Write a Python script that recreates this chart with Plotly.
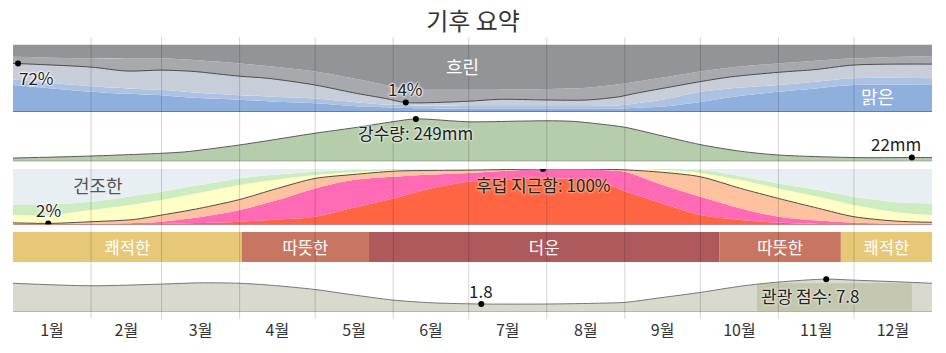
import plotly.graph_objects as go

FONT = "Noto Sans CJK KR, Noto Sans, sans-serif"

# ---------------- data ----------------
month_labels = ["1월", "2월", "3월", "4월", "5월", "6월", "7월", "8월", "9월", "10월", "11월", "12월"]
month_starts = [0, 31, 59, 90, 120, 151, 181, 212, 243, 273, 304, 334, 365]

# cloud cover (cumulative %, from bottom)
cloud_days = [0, 31, 45, 59, 72, 90, 101, 120, 135, 148, 156, 181, 193, 212, 228, 241, 246, 258, 273, 285, 304, 319, 334, 365]
cloud_clear = [40, 30, 27, 25, 21, 18, 16, 13, 9, 7, 6, 5, 5, 5, 5, 5, 6, 8, 15, 22, 30, 35, 40, 40]
cloud_mostly_clear = [48, 38, 35, 33, 29, 25, 23, 20, 15, 11, 10, 9, 9, 9, 9, 10, 12, 18, 30, 35, 40, 45, 50, 50]
cloud_partly = [72, 66.5, 60.7, 62, 60, 53, 50, 40, 28.6, 20, 14, 16, 18.8, 17.8, 17.8, 22.7, 26.7, 35, 45, 52, 58.8, 63, 69.6, 71]
cloud_mostly_cloudy = [82, 79.5, 79, 79.5, 77, 72, 68, 60, 50, 40, 34, 33, 33, 34, 36, 41, 44, 51, 60, 66, 72, 76, 79.5, 83]
cloud_overcast = [100] * len(cloud_days)

# precipitation (mm, 31-day sum)
rain_days = [0, 31, 59, 68, 90, 120, 135, 151, 160, 181, 201, 212, 222, 233, 243, 256, 273, 289, 304, 334, 357, 365]
rain_mm = [19, 31, 47, 55, 96, 165, 196, 233, 249, 232, 236, 238, 235, 219, 200, 156, 98, 59, 37, 22, 22, 22]

# humidity comfort (cumulative %, from bottom)
hum_days = [0, 15, 31, 48, 59, 74, 90, 105, 120, 135, 151, 166, 181, 196, 212, 233, 243, 258, 273, 289, 304, 320, 334, 351, 365]
hum_miserable = [0, 0, 0, 0.5, 1, 2.5, 5, 9, 14, 30, 47, 65, 77, 81, 83, 78, 60, 38, 17, 8, 3, 1, 0.5, 0, 0]
hum_oppressive = [0.5, 0.5, 1, 2.5, 5, 13, 26, 44, 65, 80, 86, 90, 93, 97, 99, 98, 95, 71, 50, 29, 14, 7, 3, 1.5, 1]
hum_muggy = [3, 2, 5, 9, 17, 29, 45, 65, 83, 90, 96, 97.5, 98, 99, 100, 99.5, 98.5, 94, 86, 65, 47, 29, 14, 6, 4]
hum_humid = [17, 17, 26, 36, 44, 57, 71, 81, 89, 94, 98, 99, 100, 100, 100, 100, 100, 98, 93, 80, 65, 50, 35, 22, 17]
hum_comfortable = [35, 36, 41, 52, 59, 71, 83, 90, 95, 98, 100, 100, 100, 100, 100, 100, 100, 100, 98, 87, 74, 62, 50, 40, 38]
hum_dry = [100] * len(hum_days)

# temperature bands
temp_starts = [0, 90.8, 141.4, 280.5, 328.8]
temp_ends = [90.8, 141.4, 280.5, 328.8, 365]
temp_labels = ["쾌적한", "따뜻한", "더운", "따뜻한", "쾌적한"]
temp_colors = ["#e6c878", "#c87562", "#ae5a5a", "#c87562", "#e6c878"]

# tourism score
tour_days = [0, 31, 59, 74, 90, 102, 120, 134, 151, 166, 181, 186, 212, 233, 243, 257, 273, 289, 304, 323, 334, 352, 365]
tour_score = [6.8, 6.2, 6.6, 6.9, 6.8, 6.35, 5.3, 4.1, 2.75, 2.1, 1.85, 1.8, 1.8, 2.0, 2.2, 3.3, 4.6, 6.1, 7.1, 7.8, 7.55, 7.15, 6.8]
best_range = [295.5, 357]
best_top = 6.8

# highlighted points
cloud_marks_days = [2, 156]
cloud_marks_vals = [72, 14]
rain_marks_days = [160, 357]
rain_marks_vals = [249, 22]
hum_marks_days = [14, 210.5]
hum_marks_vals = [2, 100]
tour_marks_days = [186, 323]
tour_marks_vals = [1.8, 7.8]

# ---------------- layout helpers ----------------
W, H = 946, 353
M_L, M_R, M_T, M_B = 13, 14, 37, 34
PLOT_H = H - M_T - M_B
BOTTOM_PX = H - M_B


def dom(top_px, bottom_px):
    return [(BOTTOM_PX - bottom_px) / PLOT_H, (BOTTOM_PX - top_px) / PLOT_H]


fig = go.Figure()
SPL = dict(shape="spline", smoothing=0.8)


def band(days, vals, color, yaxis, first=False, line=None):
    fig.add_trace(go.Scatter(
        x=days, y=vals, mode="lines", yaxis=yaxis,
        fill="tozeroy" if first else "tonexty", fillcolor=color,
        line=dict(width=line[1] if line else 0, color=line[0] if line else color, **SPL),
        hoverinfo="skip", showlegend=False))


# cloud panel (y)
band(cloud_days, cloud_clear, "#8fb0dc", "y", first=True)
band(cloud_days, cloud_mostly_clear, "#abc2e3", "y")
band(cloud_days, cloud_partly, "#c8ced9", "y", line=("#4a4a4a", 1))
band(cloud_days, cloud_mostly_cloudy, "#a7a9ae", "y")
band(cloud_days, cloud_overcast, "#939498", "y")

# precipitation (y2)
band(rain_days, rain_mm, "#b5cdab", "y2", first=True, line=("#5a5a5a", 1))

# humidity (y3)
band(hum_days, hum_miserable, "#ff6543", "y3", first=True)
band(hum_days, hum_oppressive, "#ff6ab4", "y3")
band(hum_days, hum_muggy, "#ffc2a0", "y3", line=("#4a4a4a", 1))
band(hum_days, hum_humid, "#ffffc6", "y3")
band(hum_days, hum_comfortable, "#cdecbf", "y3")
band(hum_days, hum_dry, "#e7eff3", "y3")

# temperature bands (y4)
fig.add_trace(go.Bar(
    y=[0.5] * len(temp_starts), x=[e - s for s, e in zip(temp_starts, temp_ends)],
    base=temp_starts, orientation="h", width=1, yaxis="y4",
    marker=dict(color=temp_colors, line=dict(width=0)),
    text=temp_labels, textposition="inside", insidetextanchor="middle", textangle=0,
    textfont=dict(color="white", size=18, family=FONT),
    hoverinfo="skip", showlegend=False))

# tourism (y5)
band(tour_days, tour_score, "#d9dacd", "y5", first=True, line=("#777777", 1))

# markers
for d, v, ax in [(cloud_marks_days, cloud_marks_vals, "y"), (rain_marks_days, rain_marks_vals, "y2"),
                 (hum_marks_days, hum_marks_vals, "y3"), (tour_marks_days, tour_marks_vals, "y5")]:
    fig.add_trace(go.Scatter(x=d, y=v, yaxis=ax, mode="markers",
                             marker=dict(color="black", size=6), hoverinfo="skip", showlegend=False))

shapes = []
# best-time highlight for tourism
shapes.append(dict(type="rect", xref="x", yref="y5", x0=best_range[0], x1=best_range[1], y0=0, y1=best_top,
                   fillcolor="rgba(150,152,110,0.30)", line=dict(width=0), layer="above"))
# baselines
shapes.append(dict(type="line", xref="x domain", yref="y", x0=0, x1=1, y0=0, y1=0, line=dict(color="#3e4a66", width=1)))
shapes.append(dict(type="line", xref="x domain", yref="y2", x0=0, x1=1, y0=0, y1=0, line=dict(color="#666666", width=1)))
shapes.append(dict(type="line", xref="x domain", yref="y3", x0=0, x1=1, y0=0, y1=0, line=dict(color="#8a3b3b", width=1)))
shapes.append(dict(type="line", xref="x domain", yref="y5", x0=0, x1=1, y0=0, y1=0, line=dict(color="#777777", width=1)))
# month grid lines
for m in month_starts[1:-1]:
    shapes.append(dict(type="line", xref="x", yref="paper", x0=m, x1=m, y0=0, y1=1,
                       line=dict(color="rgba(0,0,0,0.17)", width=1), layer="above"))

HALO = "0px 0px 2px white, 0px 0px 2px white, 0px 0px 3px white, 0px 0px 3px white"
HALO_G = "0px 0px 2px #e4ede0, 0px 0px 2px #e4ede0, 0px 0px 3px #e4ede0, 0px 0px 3px #e4ede0"
HALO_P = "0px 0px 2px #ffb090, 0px 0px 2px #ffb090, 0px 0px 3px #ffb090, 0px 0px 3px #ffb090"
HALO_T = "0px 0px 2px #eeeee4, 0px 0px 2px #eeeee4, 0px 0px 3px #eeeee4"


def ann(text, x, y, yref, xshift=0, yshift=0, xanchor="center", color="#222", size=17, shadow=HALO):
    return dict(text=text, x=x, y=y, xref="x", yref=yref, xshift=xshift, yshift=yshift,
                xanchor=xanchor, yanchor="middle", showarrow=False,
                font=dict(family=FONT, size=size, color=color, shadow=shadow))


annotations = [
    ann("72%", 0, cloud_marks_vals[0], "y", xshift=4, yshift=-14, xanchor="left"),
    ann("14%", cloud_marks_days[1], cloud_marks_vals[1], "y", yshift=14),
    ann("흐린", 178.7, 0.68, "y domain", color="white", shadow="none", size=18),
    ann("맑은", 343.5, 0.24, "y domain", color="white", shadow="none", size=18),
    ann("강수량: 249mm", rain_marks_days[0], rain_marks_vals[0], "y2", yshift=-14, shadow=HALO_G),
    ann("22mm", rain_marks_days[1], rain_marks_vals[1], "y2", xshift=11, yshift=14, xanchor="right"),
    ann("건조한", 33.8, 71, "y3", color="#555555", shadow="none", size=18),
    ann("2%", hum_marks_days[0], hum_marks_vals[0], "y3", yshift=14),
    ann("후덥 지근함: 100%", hum_marks_days[1], hum_marks_vals[1], "y3", yshift=-15, shadow=HALO_P),
    ann("1.8", tour_marks_days[0], tour_marks_vals[0], "y5", yshift=14),
    ann("관광 점수: 7.8", tour_marks_days[1], tour_marks_vals[1], "y5", xshift=-16, yshift=-16, shadow=HALO_T),
]

month_mids = [(a + b) / 2 for a, b in zip(month_starts[:-1], month_starts[1:])]

fig.update_layout(
    width=W, height=H,
    margin=dict(l=M_L, r=M_R, t=M_T, b=M_B),
    paper_bgcolor="white", plot_bgcolor="white",
    title=dict(text="기후 요약", x=0.5, xanchor="center", y=1 - 22 / H, yanchor="middle", yref="container",
               font=dict(family=FONT, size=24, color="#333333")),
    xaxis=dict(range=[0, 365], anchor="free", position=0, showgrid=False, zeroline=False, showline=False,
               tickmode="array", tickvals=month_mids, ticktext=month_labels, ticks="",
               tickfont=dict(family=FONT, size=16, color="#333333"), fixedrange=True),
    yaxis=dict(domain=dom(44.5, 112), range=[0, 100], visible=False, anchor="x"),
    yaxis2=dict(domain=dom(115, 161.3), range=[0, 272], visible=False, anchor="x"),
    yaxis3=dict(domain=dom(169, 224.5), range=[0, 100], visible=False, anchor="x"),
    yaxis4=dict(domain=dom(232, 262), range=[0, 1], visible=False, anchor="x"),
    yaxis5=dict(domain=dom(270, 311.5), range=[0, 10], visible=False, anchor="x"),
    shapes=shapes, annotations=annotations,
    barmode="overlay", showlegend=False, hovermode=False,
    font=dict(family=FONT),
)

fig.write_html("out.html")
